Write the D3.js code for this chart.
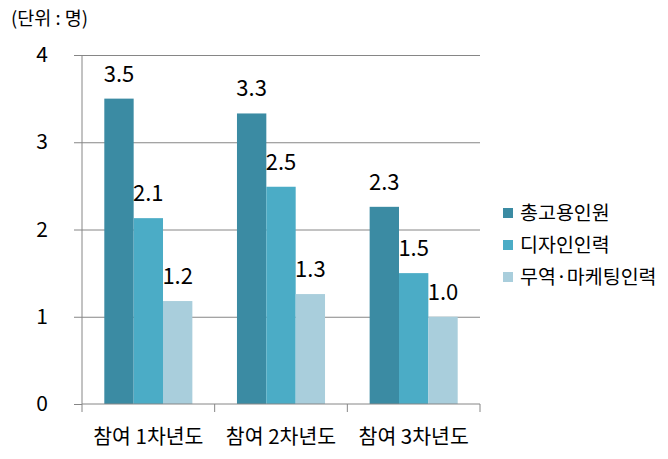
<!DOCTYPE html>
<html>
<head>
<meta charset="utf-8">
<script src="https://cdn.jsdelivr.net/npm/d3@7/dist/d3.min.js"></script>
<style>
  body { margin: 0; background: #fff; }
  svg { display: block; }
  text { font-family: "Malgun Gothic", "Noto Sans CJK KR", sans-serif; fill: #000; }
</style>
</head>
<body>
<svg id="chart" width="668" height="459"></svg>
<script>
const categories = ["참여 1차년도", "참여 2차년도", "참여 3차년도"];
const seriesNames = ["총고용인원", "디자인인력", "무역·마케팅인력"];
const totalStaff = [3.5, 3.33, 2.26];
const designStaff = [2.13, 2.49, 1.5];
const tradeStaff = [1.18, 1.26, 1.0];
const yTicks = [0, 1, 2, 3, 4];
const unitLabel = "(단위 : 명)";
const colors = ["#3B8BA3", "#4BACC6", "#A9CEDC"];

(function () {
const seriesValues = [totalStaff, designStaff, tradeStaff];
const data = categories.map((c, i) => ({
  cat: c,
  vals: seriesNames.map((s, j) => ({ s, v: seriesValues[j][i] }))
}));

const svg = d3.select("#chart");
const pLeft = 82, pRight = 480, pTop = 55, pBottom = 404;

const x0 = d3.scaleBand().domain(categories).range([pLeft, pRight]).paddingInner(0).paddingOuter(0);
const x1 = d3.scaleBand().domain(seriesNames).range([0, x0.bandwidth()]).paddingInner(0).paddingOuter(0.76);
const y = d3.scaleLinear().domain([0, 4]).range([pBottom, pTop]);
const color = d3.scaleOrdinal().domain(seriesNames).range(colors);

// gridlines
svg.append("g")
  .attr("transform", `translate(${pLeft},0)`)
  .call(d3.axisLeft(y).tickValues(yTicks.filter(t => t > 0)).tickSize(-(pRight - pLeft)).tickFormat(""))
  .call(g => g.select(".domain").remove())
  .call(g => g.selectAll("line").attr("stroke", "#868686").attr("stroke-width", 1));

// left axis with outside ticks
const yAxis = svg.append("g")
  .attr("transform", `translate(${pLeft},0)`)
  .call(d3.axisLeft(y).tickValues(yTicks).tickSize(8).tickPadding(26).tickFormat(d3.format("d")));
yAxis.select(".domain").attr("stroke", "#868686").attr("d", `M0,${pTop}V${pBottom}`);
yAxis.selectAll("line").attr("stroke", "#868686");
yAxis.selectAll("text").attr("font-size", 21).style("font-family", "'Malgun Gothic','Noto Sans CJK KR',sans-serif");

// bars
const groups = svg.append("g").selectAll("g").data(data).join("g")
  .attr("transform", d => `translate(${x0(d.cat)},0)`);
groups.selectAll("rect").data(d => d.vals).join("rect")
  .attr("x", d => x1(d.s))
  .attr("width", x1.bandwidth())
  .attr("y", d => y(d.v))
  .attr("height", d => y(0) - y(d.v))
  .attr("fill", d => color(d.s));
groups.selectAll("text").data(d => d.vals).join("text")
  .attr("x", d => x1(d.s) + x1.bandwidth() / 2)
  .attr("y", d => y(d.v) - 17)
  .attr("text-anchor", "middle")
  .attr("font-size", 22)
  .text(d => d3.format(".1f")(d.v));

// x axis
const xAxis = svg.append("g")
  .attr("transform", `translate(0,${pBottom})`);
xAxis.append("line").attr("x1", pLeft).attr("x2", pRight).attr("y1", 0).attr("y2", 0).attr("stroke", "#868686");
const boundaries = categories.map(c => x0(c)).concat([pRight]);
xAxis.selectAll("line.tk").data(boundaries).join("line").attr("class", "tk")
  .attr("x1", d => d).attr("x2", d => d).attr("y1", 0).attr("y2", 8).attr("stroke", "#868686");
xAxis.selectAll("text").data(categories).join("text")
  .attr("x", d => x0(d) + x0.bandwidth() / 2)
  .attr("y", 40)
  .attr("text-anchor", "middle")
  .attr("font-size", 20.5)
  .text(d => d);

// unit label
svg.append("text").attr("x", 11).attr("y", 25).attr("font-size", 18.5).text(unitLabel);

// legend
const legend = svg.append("g").selectAll("g").data(seriesNames).join("g")
  .attr("transform", (d, i) => `translate(503,${208 + i * 32})`);
legend.append("rect").attr("width", 10).attr("height", 10).attr("fill", d => color(d));
legend.append("text").attr("x", 17).attr("y", 5).attr("dy", "0.36em").attr("font-size", 19.5).text(d => d);
})();
</script>
</body>
</html>
